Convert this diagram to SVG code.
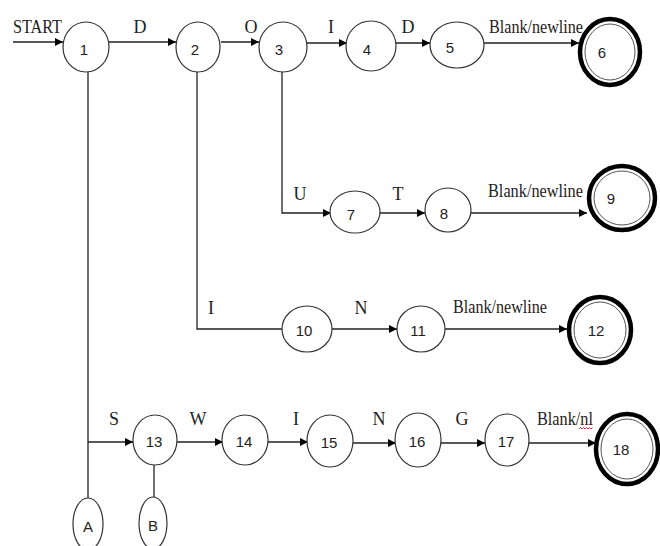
<svg xmlns="http://www.w3.org/2000/svg" width="660" height="546" viewBox="0 0 660 546">
  <style>
    .st { fill: #fff; stroke: #333; stroke-width: 1.2; }
    .fin-o { fill: #fff; stroke: #000; stroke-width: 4.5; }
    .fin-i { fill: none; stroke: #555; stroke-width: 1; }
    .num { font-family: "Liberation Sans", Arial, sans-serif; font-size: 15px; fill: #222; text-anchor: middle; }
    .lbl { font-family: "Liberation Serif", "Times New Roman", serif; font-size: 18px; fill: #222; }
    .lc { text-anchor: middle; font-size: 18px; }
    .edge { fill: none; stroke: #222; stroke-width: 1.3; }
  </style>
  <defs>
    <marker id="arrow" viewBox="0 0 10 10" refX="10" refY="5" markerWidth="8" markerHeight="8" markerUnits="userSpaceOnUse" orient="auto">
      <path d="M0,0 L10,5 L0,10 Z" fill="#000"/>
    </marker>
  </defs>
  <rect width="660" height="546" fill="#fff"/>

  <!-- transitions -->
  <g id="connectors">
    <line class="edge" x1="13" y1="42" x2="63" y2="42" marker-end="url(#arrow)"/>
    <line class="edge" x1="109" y1="42" x2="176" y2="42" marker-end="url(#arrow)"/>
    <line class="edge" x1="221" y1="42" x2="259" y2="42" marker-end="url(#arrow)"/>
    <line class="edge" x1="307" y1="43" x2="347" y2="43" marker-end="url(#arrow)"/>
    <line class="edge" x1="396" y1="43" x2="430" y2="43" marker-end="url(#arrow)"/>
    <line class="edge" x1="484" y1="43" x2="579" y2="43" marker-end="url(#arrow)"/>

    <polyline class="edge" points="282,72 282,213 331,213" marker-end="url(#arrow)"/>
    <line class="edge" x1="380" y1="213" x2="425" y2="213" marker-end="url(#arrow)"/>
    <line class="edge" x1="471" y1="213" x2="587" y2="213" marker-end="url(#arrow)"/>

    <polyline class="edge" points="197,72 197,329 282,329"/>
    <line class="edge" x1="332" y1="329" x2="397" y2="329" marker-end="url(#arrow)"/>
    <line class="edge" x1="445" y1="329" x2="567" y2="329" marker-end="url(#arrow)"/>

    <line class="edge" x1="88" y1="72" x2="88" y2="498"/>
    <line class="edge" x1="88" y1="442" x2="133" y2="442" marker-end="url(#arrow)"/>
    <line class="edge" x1="177" y1="442" x2="223" y2="442" marker-end="url(#arrow)"/>
    <line class="edge" x1="268" y1="442" x2="308" y2="442" marker-end="url(#arrow)"/>
    <line class="edge" x1="353" y1="443" x2="396" y2="443" marker-end="url(#arrow)"/>
    <line class="edge" x1="441" y1="443" x2="485" y2="443" marker-end="url(#arrow)"/>
    <line class="edge" x1="529" y1="443" x2="596" y2="443" marker-end="url(#arrow)"/>
    <line class="edge" x1="154" y1="465" x2="154" y2="497"/>
  </g>

  <!-- transition labels -->
  <g id="labels">
    <text class="lbl" x="13" y="33" textLength="49" lengthAdjust="spacingAndGlyphs">START</text>
    <text class="lbl lc" x="140" y="33">D</text>
    <text class="lbl lc" x="251" y="33">O</text>
    <text class="lbl lc" x="331" y="33">I</text>
    <text class="lbl lc" x="408" y="33">D</text>
    <text class="lbl" x="489" y="33" textLength="94" lengthAdjust="spacingAndGlyphs">Blank/newline</text>
    <text class="lbl lc" x="300" y="200">U</text>
    <text class="lbl lc" x="398" y="200">T</text>
    <text class="lbl" x="488" y="197" textLength="95" lengthAdjust="spacingAndGlyphs">Blank/newline</text>
    <text class="lbl lc" x="211" y="314">I</text>
    <text class="lbl lc" x="361" y="314">N</text>
    <text class="lbl" x="453" y="313" textLength="94" lengthAdjust="spacingAndGlyphs">Blank/newline</text>
    <text class="lbl lc" x="114" y="425">S</text>
    <text class="lbl lc" x="198" y="425">W</text>
    <text class="lbl lc" x="296" y="425">I</text>
    <text class="lbl lc" x="379" y="425">N</text>
    <text class="lbl lc" x="462" y="425">G</text>
    <text class="lbl" x="537" y="425" textLength="56" lengthAdjust="spacingAndGlyphs">Blank/nl</text>
    <path d="M579,429 l1.5,-1.5 l1.5,1.5 l1.5,-1.5 l1.5,1.5 l1.5,-1.5 l1.5,1.5 l1.5,-1.5 l1.5,1.5 l1.5,-1.5" fill="none" stroke="#d22" stroke-width="0.9"/>
  </g>

  <!-- states -->
  <g id="s1"><ellipse class="st" cx="86" cy="47" rx="23" ry="25"/><text class="num" x="84" y="55">1</text></g>
  <g id="s2"><ellipse class="st" cx="198" cy="47" rx="22" ry="25"/><text class="num" x="195" y="55">2</text></g>
  <g id="s3"><ellipse class="st" cx="283" cy="47" rx="24" ry="25"/><text class="num" x="279" y="55">3</text></g>
  <g id="s4"><ellipse class="st" cx="371" cy="46" rx="25" ry="25"/><text class="num" x="367" y="55">4</text></g>
  <g id="s5"><ellipse class="st" cx="457" cy="45" rx="27" ry="23"/><text class="num" x="450" y="53">5</text></g>
  <g id="s6"><ellipse class="fin-o" cx="610" cy="52" rx="30" ry="33"/><ellipse class="fin-i" cx="610" cy="52" rx="25" ry="28"/><text class="num" x="602" y="58">6</text></g>

  <g id="s7"><ellipse class="st" cx="355" cy="212" rx="25" ry="21"/><text class="num" x="351" y="220">7</text></g>
  <g id="s8"><ellipse class="st" cx="448" cy="210" rx="23" ry="22"/><text class="num" x="444" y="219">8</text></g>
  <g id="s9"><ellipse class="fin-o" cx="622" cy="198" rx="33" ry="32"/><ellipse class="fin-i" cx="622" cy="198" rx="28" ry="27"/><text class="num" x="611" y="204">9</text></g>

  <g id="s10"><ellipse class="st" cx="307" cy="329" rx="25" ry="23"/><text class="num" x="304" y="336">10</text></g>
  <g id="s11"><ellipse class="st" cx="421" cy="329" rx="24" ry="23"/><text class="num" x="418" y="336">11</text></g>
  <g id="s12"><ellipse class="fin-o" cx="600" cy="330" rx="31" ry="33"/><ellipse class="fin-i" cx="600" cy="330" rx="26" ry="28"/><text class="num" x="596" y="336">12</text></g>

  <g id="s13"><ellipse class="st" cx="155" cy="440" rx="22" ry="25"/><text class="num" x="154" y="447">13</text></g>
  <g id="s14"><ellipse class="st" cx="245" cy="440" rx="23" ry="25"/><text class="num" x="244" y="447">14</text></g>
  <g id="s15"><ellipse class="st" cx="330" cy="441" rx="23" ry="26"/><text class="num" x="329" y="448">15</text></g>
  <g id="s16"><ellipse class="st" cx="418" cy="440" rx="23" ry="27"/><text class="num" x="417" y="447">16</text></g>
  <g id="s17"><ellipse class="st" cx="507" cy="440" rx="22" ry="26"/><text class="num" x="506" y="447">17</text></g>
  <g id="s18"><ellipse class="fin-o" cx="627" cy="449" rx="31" ry="35"/><ellipse class="fin-i" cx="627" cy="449" rx="26" ry="30"/><text class="num" x="621" y="455">18</text></g>

  <g id="sA"><ellipse class="st" cx="88" cy="524" rx="15" ry="26"/><text class="num" x="88" y="532">A</text></g>
  <g id="sB"><ellipse class="st" cx="153" cy="523" rx="14" ry="26"/><text class="num" x="153" y="531">B</text></g>
</svg>
